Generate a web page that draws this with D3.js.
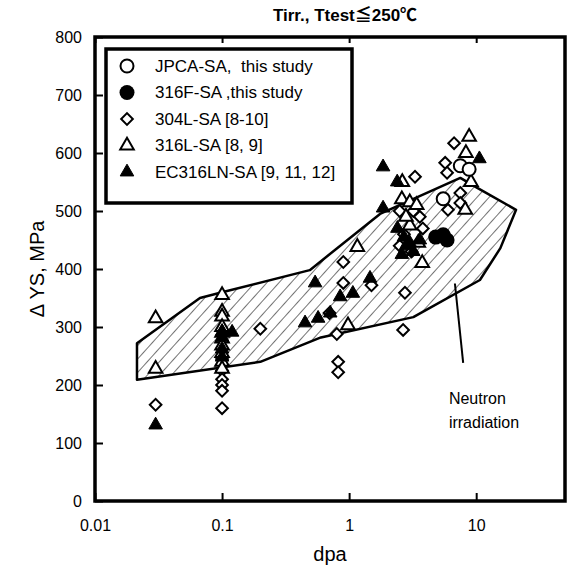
<!DOCTYPE html>
<html>
<head>
<meta charset="utf-8">
<script src="https://cdn.jsdelivr.net/npm/d3@7"></script>
<style>
  body { margin: 0; background: #fff; }
  svg { display: block; }
</style>
</head>
<body>
<div id="chart"></div>
<script>
// data (dpa, delta YS in MPa)
const jpcaDpa = [5.5, 7.5, 8.8];
const jpcaYs = [521, 578, 572];

const f316Dpa = [4.8, 5.5, 5.9];
const f316Ys = [455, 459, 450];

const l304Dpa = [0.03, 0.1, 0.1, 0.1, 0.1, 0.1, 0.1, 0.2, 0.7, 0.8, 0.82, 0.82, 0.9, 0.9, 1.5,
    2.5, 3.2, 3.6, 2.7, 3.8, 3.1, 2.5, 2.75, 2.66, 3.3, 5.7, 5.9, 6.7, 7.5, 7.5, 6.0];
const l304Ys = [166, 245, 225, 210, 200, 190, 160, 297, 324, 288, 240, 222, 412, 376, 372,
    500, 500, 490, 460, 470, 430, 440, 359, 295, 559, 583, 566, 617, 531, 514, 502];

const l316Dpa = [0.03, 0.03, 0.1, 0.1, 0.1, 0.1, 0.1, 0.1, 0.1, 0.1, 0.1, 0.1, 0.98, 1.16, 2.62,
    2.6, 3.0, 3.4, 3.0, 2.8, 3.5, 3.76, 8.8, 8.3, 9.1, 8.2];
const l316Ys = [315, 228, 355, 326, 318, 300, 290, 280, 268, 255, 240, 228, 303, 438, 550,
    520, 515, 510, 475, 490, 445, 410, 628, 600, 550, 502];

const ecDpa = [0.03, 0.1, 0.1, 0.1, 0.1, 0.12, 0.45, 0.57, 0.54, 0.71, 0.85, 1.07, 1.46,
    1.85, 1.85, 2.39, 2.4, 2.7, 2.8, 2.6, 3.2, 3.0, 3.6, 10.6];
const ecYs = [131, 292, 282, 262, 248, 291, 307, 315, 376, 324, 352, 358, 384,
    576, 505, 550, 470, 455, 440, 425, 430, 445, 450, 590];

// neutron irradiation band (outline, clockwise)
const bandDpa = [0.0214, 0.067, 0.1, 0.49, 1.75, 7.5, 10.2, 20.6, 15.5, 10.7, 3.2, 0.6, 0.2, 0.0214];
const bandYs = [272, 350, 360, 398, 495, 557, 540, 502, 436, 381, 317, 282, 240, 209];

const xTicks = [0.01, 0.1, 1, 10];
const yTicks = [0, 100, 200, 300, 400, 500, 600, 700, 800];

const legendLabels = ["JPCA-SA,  this study", "316F-SA ,this study", "304L-SA [8-10]",
    "316L-SA [8, 9]", "EC316LN-SA [9, 11, 12]"];

const width = 567;
const height = 566;
const font = "'Liberation Sans', Arial, 'Noto Sans CJK JP', sans-serif";

const svg = d3.select("#chart")
    .append("svg")
    .attr("width", width)
    .attr("height", height);

const x = d3.scaleLog().domain([0.01, 50]).range([95, 565]);
const y = d3.scaleLinear().domain([0, 800]).range([501, 37]);

// hatch pattern
const defs = svg.append("defs");
defs.append("pattern")
    .attr("id", "hatch")
    .attr("patternUnits", "userSpaceOnUse")
    .attr("width", 9)
    .attr("height", 9)
    .attr("patternTransform", "rotate(42)")
    .append("line")
    .attr("x1", 0).attr("y1", 0)
    .attr("x2", 0).attr("y2", 9)
    .attr("stroke", "#000")
    .attr("stroke-width", 1.1);

const band = bandDpa.map((d, i) => [x(d), y(bandYs[i])]);
svg.append("path")
    .attr("d", d3.line()(band) + "Z")
    .attr("fill", "url(#hatch)")
    .attr("stroke", "#000")
    .attr("stroke-width", 2.5)
    .attr("stroke-linejoin", "round");

// pointer + label
svg.append("line")
    .attr("x1", x(6.8)).attr("y1", y(375))
    .attr("x2", x(7.9)).attr("y2", y(238))
    .attr("stroke", "#000")
    .attr("stroke-width", 2);

const note = svg.append("text")
    .attr("font-family", font)
    .attr("font-size", 16);
note.append("tspan").attr("x", x(6.1)).attr("y", y(168)).text("Neutron");
note.append("tspan").attr("x", x(6.1)).attr("y", y(126)).text("irradiation");

// markers
const tri = d3.symbol().type(d3.symbolTriangle).size(80);
const sq = d3.symbol().type(d3.symbolSquare).size(68);

function pts(xs, ys) {
    return xs.map((d, i) => [d, ys[i]]);
}

svg.append("g").selectAll("path")
    .data(pts(l304Dpa, l304Ys))
    .join("path")
    .attr("d", sq)
    .attr("transform", d => `translate(${x(d[0])},${y(d[1])}) rotate(45)`)
    .attr("fill", "#fff")
    .attr("stroke", "#000")
    .attr("stroke-width", 2);

svg.append("g").selectAll("path")
    .data(pts(l316Dpa, l316Ys))
    .join("path")
    .attr("d", tri)
    .attr("transform", d => `translate(${x(d[0])},${y(d[1])})`)
    .attr("fill", "#fff")
    .attr("stroke", "#000")
    .attr("stroke-width", 2);

svg.append("g").selectAll("path")
    .data(pts(ecDpa, ecYs))
    .join("path")
    .attr("d", tri)
    .attr("transform", d => `translate(${x(d[0])},${y(d[1])})`)
    .attr("fill", "#000")
    .attr("stroke", "#000")
    .attr("stroke-width", 1);

svg.append("g").selectAll("circle")
    .data(pts(jpcaDpa, jpcaYs))
    .join("circle")
    .attr("cx", d => x(d[0]))
    .attr("cy", d => y(d[1]))
    .attr("r", 6.5)
    .attr("fill", "#fff")
    .attr("stroke", "#000")
    .attr("stroke-width", 2);

svg.append("g").selectAll("circle")
    .data(pts(f316Dpa, f316Ys))
    .join("circle")
    .attr("cx", d => x(d[0]))
    .attr("cy", d => y(d[1]))
    .attr("r", 7.5)
    .attr("fill", "#000");

// axes
const xAxis = svg.append("g")
    .attr("transform", `translate(0,${y(0)})`)
    .call(d3.axisBottom(x).tickValues(xTicks).tickFormat(d => String(d))
        .tickSizeInner(-8).tickSizeOuter(0).tickPadding(19));

const xTop = svg.append("g")
    .attr("transform", `translate(0,${y(800)})`)
    .call(d3.axisTop(x).tickValues(xTicks).tickFormat("")
        .tickSizeInner(-6).tickSizeOuter(0));

const yAxis = svg.append("g")
    .attr("transform", `translate(${x(0.01)},0)`)
    .call(d3.axisLeft(y).tickValues(yTicks).tickFormat(d3.format("d"))
        .tickSizeInner(-8).tickSizeOuter(0).tickPadding(13));

[xAxis, xTop, yAxis].forEach(g => {
    g.select(".domain").remove();
    g.selectAll("line").attr("stroke", "#000").attr("stroke-width", 2);
    g.selectAll("text")
        .attr("font-family", font)
        .attr("font-size", 16)
        .attr("fill", "#000");
});

// frame
svg.append("rect")
    .attr("x", x(0.01))
    .attr("y", y(800))
    .attr("width", x(50) - x(0.01))
    .attr("height", y(0) - y(800))
    .attr("fill", "none")
    .attr("stroke", "#000")
    .attr("stroke-width", 3.5);

// titles
svg.append("text")
    .attr("x", 345)
    .attr("y", 21)
    .attr("text-anchor", "middle")
    .attr("font-family", font)
    .attr("font-size", 17)
    .attr("font-weight", "bold")
    .text("Tirr., Ttest≦250℃");

svg.append("text")
    .attr("x", 330)
    .attr("y", 561)
    .attr("text-anchor", "middle")
    .attr("font-family", font)
    .attr("font-size", 20)
    .text("dpa");

svg.append("text")
    .attr("transform", `translate(44,${(y(0) + y(800)) / 2}) rotate(-90)`)
    .attr("text-anchor", "middle")
    .attr("font-family", font)
    .attr("font-size", 20)
    .text("Δ YS, MPa");

// legend
const legend = svg.append("g");
legend.append("rect")
    .attr("x", 106)
    .attr("y", 49)
    .attr("width", 246)
    .attr("height", 154)
    .attr("fill", "#fff")
    .attr("stroke", "#000")
    .attr("stroke-width", 3.5);

const rows = legend.selectAll("g.row")
    .data(legendLabels)
    .join("g")
    .attr("class", "row")
    .attr("transform", (d, i) => `translate(127,${66 + i * 26.5})`);

rows.each(function(d, i) {
    const g = d3.select(this);
    if (i === 0) {
        g.append("circle").attr("r", 6.5).attr("fill", "#fff").attr("stroke", "#000").attr("stroke-width", 2);
    } else if (i === 1) {
        g.append("circle").attr("r", 7.5).attr("fill", "#000");
    } else if (i === 2) {
        g.append("path").attr("d", sq).attr("transform", "rotate(45)")
            .attr("fill", "#fff").attr("stroke", "#000").attr("stroke-width", 2);
    } else if (i === 3) {
        g.append("path").attr("d", tri)
            .attr("fill", "#fff").attr("stroke", "#000").attr("stroke-width", 2);
    } else {
        g.append("path").attr("d", tri)
            .attr("fill", "#000").attr("stroke", "#000").attr("stroke-width", 1);
    }
});

rows.append("text")
    .attr("x", 28)
    .attr("dy", "0.35em")
    .attr("font-family", font)
    .attr("font-size", 17)
    .style("white-space", "pre")
    .text(d => d);
</script>
</body>
</html>
